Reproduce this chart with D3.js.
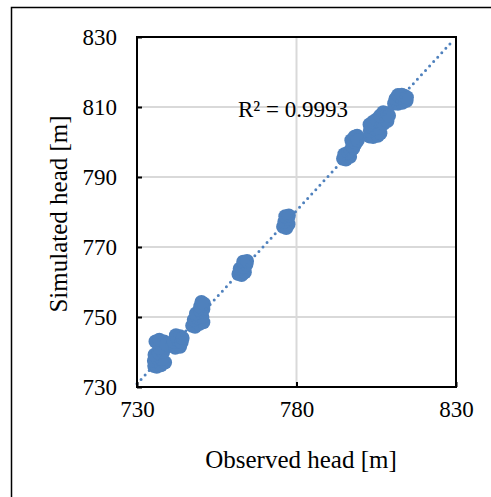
<!DOCTYPE html>
<html>
<head>
<meta charset="utf-8">
<script src="https://cdn.jsdelivr.net/npm/d3@7"></script>
<style>
  body { margin: 0; background: #fff; }
  text { font-family: "Liberation Serif", "DejaVu Serif", serif; fill: #000; }
</style>
</head>
<body>
<svg id="chart" width="491" height="497"></svg>
<script>
// Observed vs simulated heads (clusters)
const observed = [
  735.4, 736.2, 737.5, 738.8, 735.3, 736.5, 737.8, 735.5, 736.8, 738.2, 737.0, 735.8, 737.0, 738.5, 739.2,
  741.0, 742.0, 743.5, 741.5, 742.8, 744.0, 742.2, 743.5, 744.3,
  747.3, 748.2, 749.5, 750.8, 747.8, 749.0, 750.5, 748.5, 750.0, 750.8, 749.8, 750.2, 751.0,
  761.8, 762.8, 763.8, 762.2, 763.5, 764.3, 763.3, 764.5,
  775.8, 776.8, 777.5, 776.2, 777.3, 776.5, 777.6,
  794.6, 795.5, 796.8, 795.0, 796.2, 797.0, 797.8, 798.5, 797.5, 797.2, 798.2, 799.0, 799.2,
  802.8, 804.0, 805.5, 806.3, 803.0, 804.5, 805.8, 802.9, 804.0, 805.2, 806.5, 807.3, 808.5, 806.2, 807.2, 808.5, 809.0,
  810.6, 811.8, 813.2, 814.5, 811.0, 812.5, 813.8, 811.8, 813.0, 814.6
];
const simulated = [
  736.0, 735.8, 736.2, 737.0, 737.5, 738.2, 738.0, 739.2, 739.8, 740.0, 741.2, 743.0, 743.5, 743.0, 742.2,
  741.8, 741.2, 741.5, 743.0, 743.5, 742.8, 744.8, 744.5, 744.0,
  747.5, 747.2, 748.0, 748.5, 749.2, 749.8, 750.0, 751.0, 751.5, 752.2, 753.0, 754.3, 753.8,
  762.3, 762.0, 762.8, 763.8, 764.3, 765.0, 765.8, 766.0,
  775.8, 775.4, 776.5, 777.2, 778.0, 778.8, 779.0,
  795.2, 795.0, 795.8, 796.5, 797.0, 797.5, 798.2, 799.5, 799.0, 800.5, 801.5, 801.8, 800.5,
  801.6, 801.4, 801.8, 802.5, 803.2, 803.8, 804.0, 805.0, 805.8, 806.5, 805.5, 805.2, 806.0, 807.5, 808.5, 808.2, 807.5,
  811.0, 810.9, 811.2, 811.8, 812.3, 812.8, 813.2, 813.4, 813.5, 812.8
];
const xTicks = [730, 780, 830];
const yTicks = [730, 750, 770, 790, 810, 830];
// linear trendline as shown, and its extent
const trendSlope = 0.99;
const trendIntercept = 8.2;
const trendRange = [730, 829];
const r2Label = "R² = 0.9993";

const svg = d3.select("#chart");
const plotL = 137, plotR = 456, plotT = 37, plotB = 387;

// outer chart border (runs off the right/bottom)
svg.append("rect")
  .attr("x", 11.5).attr("y", 7.5)
  .attr("width", 500).attr("height", 500)
  .attr("fill", "none").attr("stroke", "#000").attr("stroke-width", 1.5);

const x = d3.scaleLinear().domain([730, 830]).range([plotL, plotR]);
const y = d3.scaleLinear().domain([730, 830]).range([plotB, plotT]);

// gridlines
svg.append("g").selectAll("line.hgrid")
  .data(yTicks.slice(1, -1))
  .enter().append("line")
  .attr("class", "hgrid")
  .attr("x1", plotL).attr("x2", plotR)
  .attr("y1", d => y(d)).attr("y2", d => y(d))
  .attr("stroke", "#d9d9d9").attr("stroke-width", 2);
svg.append("g").selectAll("line.vgrid")
  .data(xTicks.slice(1, -1))
  .enter().append("line")
  .attr("class", "vgrid")
  .attr("x1", d => x(d)).attr("x2", d => x(d))
  .attr("y1", plotT).attr("y2", plotB)
  .attr("stroke", "#d9d9d9").attr("stroke-width", 2);

// points
const pts = observed.map((o, i) => ({o: o, s: simulated[i]}));
svg.append("g").selectAll("circle")
  .data(pts)
  .enter().append("circle")
  .attr("cx", d => x(d.o))
  .attr("cy", d => y(d.s))
  .attr("r", 7)
  .attr("fill", "#4f81bd");

// dotted trendline
svg.append("line")
  .attr("x1", x(trendRange[0])).attr("y1", y(trendSlope * trendRange[0] + trendIntercept))
  .attr("x2", x(trendRange[1])).attr("y2", y(trendSlope * trendRange[1] + trendIntercept))
  .attr("stroke", "#4f81bd").attr("stroke-width", 3)
  .attr("stroke-linecap", "round")
  .attr("stroke-dasharray", "0 6");

// plot frame
svg.append("rect")
  .attr("x", plotL).attr("y", plotT)
  .attr("width", plotR - plotL).attr("height", plotB - plotT)
  .attr("fill", "none").attr("stroke", "#000").attr("stroke-width", 2);

// axes (inner ticks, labels)
const xAxis = d3.axisBottom(x).tickValues(xTicks).tickSize(-5).tickPadding(14);
const gx = svg.append("g").attr("transform", `translate(0,${plotB})`).call(xAxis);
const yAxis = d3.axisLeft(y).tickValues(yTicks).tickSize(-5).tickPadding(20);
const gy = svg.append("g").attr("transform", `translate(${plotL},0)`).call(yAxis);
[gx, gy].forEach(g => {
  g.select(".domain").remove();
  g.selectAll(".tick line").attr("stroke", "#000").attr("stroke-width", 2);
  g.selectAll(".tick text").style("font-size", "23px").attr("fill", "#000");
});

// R² label
svg.append("text")
  .attr("x", 238).attr("y", 117)
  .style("font-size", "23px")
  .text(r2Label);

// axis titles
svg.append("text")
  .attr("x", 301).attr("y", 468)
  .attr("text-anchor", "middle")
  .style("font-size", "25px")
  .text("Observed head [m]");
svg.append("text")
  .attr("transform", `translate(67,${(plotT + plotB) / 2 + 2}) rotate(-90)`)
  .attr("text-anchor", "middle")
  .style("font-size", "25px")
  .text("Simulated head [m]");
</script>
</body>
</html>
